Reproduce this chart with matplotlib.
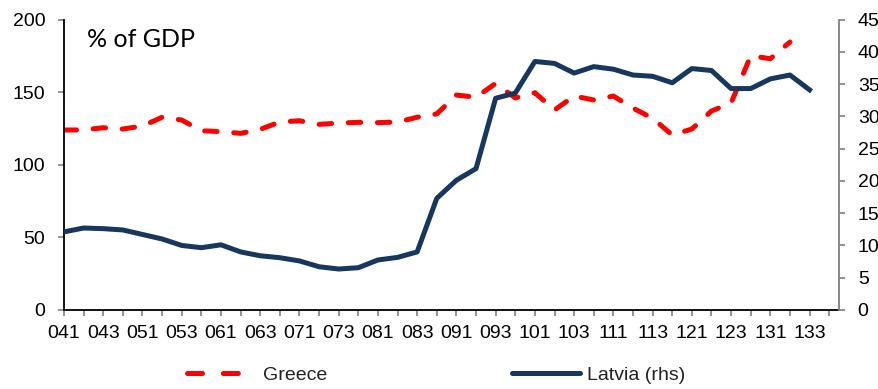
import matplotlib
matplotlib.use("Agg")
import matplotlib.pyplot as plt
from matplotlib.lines import Line2D

# quarters 2004Q1 .. 2013Q4 (yy + quarter)
quarters = [f"{y:02d}{q}" for y in range(4, 14) for q in range(1, 5)]

# Greece, % of GDP (lhs), 04Q1 - 13Q2
greece = [123.9, 124.0, 125.5, 124.6, 126.7, 132.7, 130.8, 123.4, 122.8, 121.6,
          124.4, 129.4, 130.3, 127.8, 128.7, 129.2, 129.0, 129.4, 132.7, 135.0,
          148.0, 146.5, 156.0, 146.0, 149.6, 137.7, 147.3, 144.6, 147.3, 139.0,
          132.0, 120.5, 124.6, 137.0, 142.5, 175.0, 173.0, 184.5]

# Latvia, % of GDP (rhs), 04Q1 - 13Q3
latvia = [12.1, 12.7, 12.6, 12.4, 11.7, 11.0, 10.0, 9.65, 10.1, 9.0,
          8.4, 8.1, 7.6, 6.7, 6.35, 6.55, 7.75, 8.15, 9.0, 17.3,
          20.1, 21.9, 32.8, 33.6, 38.5, 38.2, 36.7, 37.7, 37.3, 36.4,
          36.2, 35.2, 37.4, 37.1, 34.3, 34.3, 35.8, 36.4, 34.1]

plt.rcParams['font.family'] = ['Liberation Sans', 'DejaVu Sans']
plt.rcParams['lines.scale_dashes'] = False

fig = plt.figure(figsize=(8.79, 3.89), dpi=100)
ax = fig.add_axes([64 / 879, 1 - 310 / 389, 775 / 879, 290.5 / 389])
ax2 = ax.twinx()

red = '#FF0000'
navy = '#17375E'
grey = '#808080'

ax.plot(range(len(greece)), greece, color=red, lw=3.6,
        dashes=(9, 12), dash_capstyle='round')
ax2.plot(range(len(latvia)), latvia, color=navy, lw=3.6,
         solid_joinstyle='round')

ax.set_xlim(0, 39.5)
ax.set_ylim(0, 200)
ax.set_yticks(range(0, 201, 50))
ax2.set_ylim(0, 45)
ax2.set_yticks(range(0, 46, 5))

ax.set_xticks(range(len(quarters)))
ax.set_xticklabels([q if i % 2 == 0 else '' for i, q in enumerate(quarters)])

for s in ['top', 'right']:
    ax.spines[s].set_visible(False)
for s in ['top', 'left', 'bottom']:
    ax2.spines[s].set_visible(False)
ax.spines['left'].set_color('black')
ax.spines['bottom'].set_color('black')
ax2.spines['right'].set_color(grey)
for sp in [ax.spines['left'], ax.spines['bottom'], ax2.spines['right']]:
    sp.set_linewidth(1.3)

ax.tick_params(axis='y', length=4.5, width=1.2, color=grey, labelsize=14, pad=9)
ax.tick_params(axis='x', length=4.5, width=1.2, color=grey, labelsize=14, pad=6)
ax2.tick_params(axis='y', length=4.5, width=1.2, color=grey, labelsize=14, pad=9)

ax.text(0.03, 0.906, '% of GDP', transform=ax.transAxes, fontsize=18,
        family=['Lato', 'DejaVu Sans'], va='baseline', ha='left')

# legend entries placed separately, like the original
h_gr = Line2D([], [], color=red, lw=3.6, dashes=(10.8, 15), dash_capstyle='round')
h_lv = Line2D([], [], color=navy, lw=3.6, solid_capstyle='round')
leg1 = fig.legend([h_gr], ['Greece'], loc='center left', bbox_to_anchor=(187 / 879, 0.036),
                  frameon=False, fontsize=14, handlelength=2.6, handletextpad=1.3,
                  borderpad=0, borderaxespad=0, labelcolor='#222222')
fig.legend([h_lv], ['Latvia (rhs)'], loc='center left', bbox_to_anchor=(512 / 879, 0.036),
           frameon=False, fontsize=14, handlelength=3.5, handletextpad=0.35,
           borderpad=0, borderaxespad=0, labelcolor='#222222')

fig.savefig('out.png', dpi=100)
